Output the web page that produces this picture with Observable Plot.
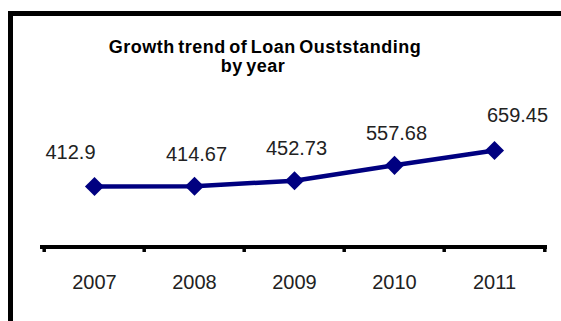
<!DOCTYPE html>
<html>
<head>
<meta charset="utf-8">
<script src="https://cdn.jsdelivr.net/npm/d3@7"></script>
<script src="https://cdn.jsdelivr.net/npm/@observablehq/plot@0.6"></script>
<style>
  html, body { margin: 0; padding: 0; background: #fff; }
  body { position: relative; width: 561px; height: 321px; overflow: hidden; font-family: "Liberation Sans", Arial, sans-serif; }
  #frame { position: absolute; left: 8px; top: 11px; width: 600px; height: 400px; border-top: 5px solid #000; border-left: 5px solid #000; }
  .title { position: absolute; transform: translateX(-50%); white-space: nowrap; font-weight: bold; font-size: 18px; color: #000; letter-spacing: 0.5px; word-spacing: -2px; line-height: 17px; height: 17px; }
  #chart { position: absolute; left: 0; top: 0; }
</style>
</head>
<body>
<div id="frame"></div>
<div class="title" id="t1" style="left:265px; top:38.5px;">Growth trend of Loan Ouststanding</div>
<div class="title" id="t2" style="left:253px; top:58px;">by year</div>
<div id="chart"></div>
<script>
const years = ["2007", "2008", "2009", "2010", "2011"];
const loans = [412.9, 414.67, 452.73, 557.68, 659.45];
const labels = ["412.9", "414.67", "452.73", "557.68", "659.45"];

const data = years.map((y, i) => ({year: y, value: loans[i], label: labels[i]}));
const first = data.slice(0, 1);
const middle = data.slice(1, 4);
const last = data.slice(4);

const plot = Plot.plot({
  width: 561,
  height: 321,
  marginLeft: 42,
  marginRight: 16,
  marginTop: 144,
  marginBottom: 74.5,
  style: {fontFamily: "'Liberation Sans', Arial, sans-serif", background: "transparent", overflow: "visible"},
  x: {type: "band", domain: years, padding: 0, label: null},
  y: {domain: [0, 700], axis: null},
  marks: [
    Plot.axisX({tickSize: 0, tickPadding: 27.5, fontSize: 20, fill: "#222", label: null}),
    Plot.ruleY([0], {stroke: "#000", strokeWidth: 4, strokeLinecap: "square"}),
    Plot.ruleX(years, {x: d => d, dx: -50.3, y1: 0, y2: 0, insetBottom: -5.5, stroke: "#000", strokeWidth: 3.5}),
    Plot.ruleX(years.slice(-1), {x: d => d, dx: 50.3, y1: 0, y2: 0, insetBottom: -5.5, stroke: "#000", strokeWidth: 3.5}),
    Plot.line(data, {x: "year", y: "value", stroke: "#000080", strokeWidth: 4.5}),
    Plot.dot(data, {x: "year", y: "value", symbol: "diamond2", r: 8.6, fill: "#000080", stroke: "none"}),
    Plot.text(first, {x: "year", y: "value", text: "label", dx: -24, dy: -34, fontSize: 20, fill: "#222"}),
    Plot.text(middle, {x: "year", y: "value", text: "label", dx: 2, dy: -32, fontSize: 20, fill: "#222"}),
    Plot.text(last, {x: "year", y: "value", text: "label", dx: 23, dy: -34.5, fontSize: 20, fill: "#222"})
  ]
});
document.getElementById("chart").appendChild(plot);
</script>
</body>
</html>
